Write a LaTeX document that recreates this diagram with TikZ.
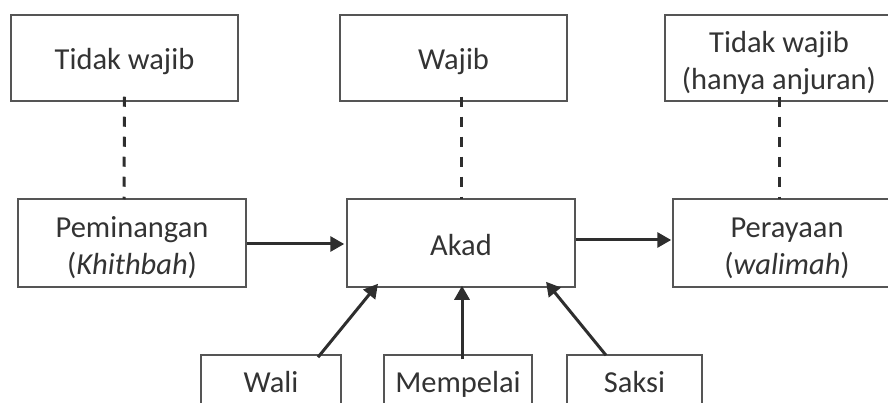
\documentclass[tikz,border=0pt]{standalone}
\usepackage{fontspec}
\setmainfont{Carlito}
\usetikzlibrary{arrows.meta}
\definecolor{txt}{HTML}{333333}
\definecolor{brd}{HTML}{555555}
\definecolor{arr}{HTML}{2E2E2E}
\begin{document}
\begin{tikzpicture}[x=1pt,y=-1pt,
  box/.style={draw=brd,line width=1.5pt,text=txt,inner sep=0pt,
    font=\fontsize{30.5}{37}\selectfont,align=center},
  onel/.style={text height=27pt,text depth=3pt},
  conn/.style={draw=arr,line width=3pt,dash pattern=on 10pt off 10pt},
  arrw/.style={draw=arr,line width=3pt,-{Triangle[length=14pt,width=15pt]}}]
\useasboundingbox (0,0) rectangle (888,403);
\clip (0,0) rectangle (888,403);
% top row
\node[box,onel,minimum width=227,minimum height=86] (t1) at (124.5,58) {Tidak wajib};
\node[box,onel,minimum width=227,minimum height=86] (t2) at (453.5,58) {Wajib};
\node[box,minimum width=228,minimum height=86] (t3) at (779,58) {\rule{0pt}{32pt}Tidak wajib\\(hanya anjuran)};
% middle row
\node[box,minimum width=228,minimum height=88] (pem) at (132,243) {\rule{0pt}{30pt}Peminangan\\(\textit{Khithbah})};
\node[box,onel,minimum width=228,minimum height=88] (akad) at (461,243) {Akad};
\node[box,minimum width=228,minimum height=88] (per) at (787,243) {\rule{0pt}{30pt}Perayaan\\(\textit{walimah})};
% bottom row
\node[box,onel,minimum width=140,minimum height=50] (wali) at (271,380) {Wali};
\node[box,onel,minimum width=148,minimum height=50] (mem) at (458,380) {Mempelai};
\node[box,onel,minimum width=135,minimum height=50] (sak) at (634.5,380) {Saksi};
% dashed connectors
\draw[conn] ([yshift=5pt]t1.south) -- ([xshift=-8pt,yshift=-1pt]pem.north);
\draw[conn] ([xshift=7.5pt,yshift=5pt]t2.south) -- ([yshift=-1pt]akad.north);
\draw[conn] ([yshift=5pt]t3.south) -- ([xshift=-8pt,yshift=-1pt]per.north);
% arrows
\draw[arrw] ([yshift=-1pt]pem.east) -- ([xshift=-2pt,yshift=-1pt]akad.west);
\draw[arrw] ([yshift=3pt]akad.east) -- ([xshift=-1pt,yshift=3pt]per.west);
\draw[arrw] ([xshift=47pt,yshift=-3pt]wali.north) -- ([xshift=-83pt,yshift=4pt]akad.south);
\draw[arrw] ([xshift=4pt,yshift=-5pt]mem.north) -- ([xshift=1pt,yshift=2pt]akad.south);
\draw[arrw] ([xshift=-28.5pt,yshift=-1pt]sak.north) -- ([xshift=85pt,yshift=6pt]akad.south);
\end{tikzpicture}
\end{document}
